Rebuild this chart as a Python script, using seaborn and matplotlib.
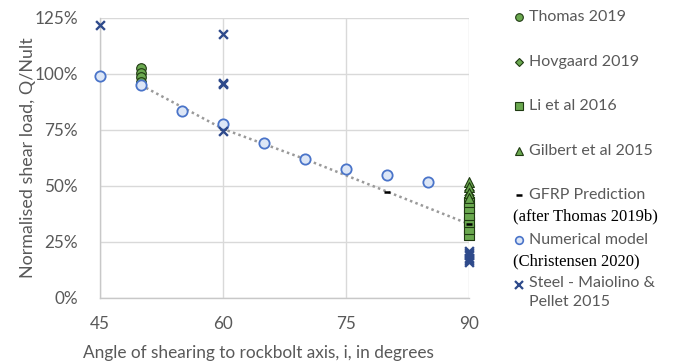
import matplotlib
matplotlib.use("Agg")
import matplotlib.pyplot as plt
from matplotlib.lines import Line2D
import seaborn as sns
import pandas as pd

# ---- data ----
thomas_x = [50, 50, 50, 50]
thomas_y = [102.5, 100.5, 98.5, 96.5]
hovgaard_x = [90, 90]
hovgaard_y = [48, 46]
li_x = [90, 90, 90, 90, 90, 90]
li_y = [28, 31, 34, 37, 40, 43]
gilbert_x = [90, 90, 90, 90]
gilbert_y = [52, 49.5, 47, 44.5]
gfrp_x = [50, 60, 70, 80, 90]
gfrp_y = [95, 75.5, 62, 47.5, 33]
num_x = [45, 50, 55, 60, 65, 70, 75, 80, 85]
num_y = [99, 95, 83.5, 77.5, 69, 62, 57.5, 55, 52]
steel_x = [45, 60, 60, 60, 60, 90, 90, 90, 90, 90, 90]
steel_y = [122, 118, 96, 95.5, 74.5, 21, 20, 19, 18, 17, 16]

x_ticks = [45, 60, 75, 90]
y_ticks = [0, 25, 50, 75, 100, 125]
y_ticklabels = ["0%", "25%", "50%", "75%", "100%", "125%"]

legend_labels = ["Thomas 2019", "Hovgaard 2019", "Li et al 2016", "Gilbert et al 2015",
                 "GFRP Prediction", "Numerical model", "Steel - Maiolino &\nPellet 2015"]
legend_sub = {4: "(after Thomas 2019b)", 5: "(Christensen 2020)"}
x_label = "Angle of shearing to rockbolt axis, i, in degrees"
y_label = "Normalised shear load, Q/Nult"

# ---- style ----
sns.set_style("white")
plt.rcParams["font.family"] = ["Lato", "DejaVu Sans"]
TXT = "#595959"
GREEN = "#6aa84f"
BLUE_E = "#4a74c9"
BLUE_F = "#dce6f6"
STEEL = "#2e4a8b"

W, H = 679, 363
fig = plt.figure(figsize=(W / 100, H / 100), dpi=100)
ax = fig.add_axes([100 / W, 1 - 298 / H, (469 - 100) / W, (298 - 18) / H])

df = lambda x, y: pd.DataFrame({"x": x, "y": y})

sns.scatterplot(data=df(thomas_x, thomas_y), x="x", y="y", ax=ax, marker="o", s=48,
                color=GREEN, edgecolor="#1f3a12", linewidth=0.8, zorder=3)
sns.scatterplot(data=df(hovgaard_x, hovgaard_y), x="x", y="y", ax=ax, marker="D", s=22,
                color=GREEN, edgecolor="#1f3a12", linewidth=0.8, zorder=3)
sns.scatterplot(data=df(li_x, li_y), x="x", y="y", ax=ax, marker="s", s=48,
                color=GREEN, edgecolor="#1f3a12", linewidth=0.8, zorder=3)
sns.scatterplot(data=df(gilbert_x, gilbert_y), x="x", y="y", ax=ax, marker="^", s=50,
                color=GREEN, edgecolor="#1f3a12", linewidth=0.8, zorder=3)
sns.lineplot(data=df(gfrp_x, gfrp_y), x="x", y="y", ax=ax, color="#9a9a9a",
             linewidth=1.8, linestyle=(0, (1, 1.3)), zorder=2)
sns.scatterplot(data=df(gfrp_x, gfrp_y), x="x", y="y", ax=ax, marker="_", s=18,
                color="black", linewidth=1.8, zorder=3)
sns.scatterplot(data=df(num_x, num_y), x="x", y="y", ax=ax, marker="o", s=55,
                color=BLUE_F, edgecolor=BLUE_E, linewidth=1.3, zorder=4)
sns.scatterplot(data=df(steel_x, steel_y), x="x", y="y", ax=ax, marker="x", s=40,
                color=STEEL, linewidth=1.7, zorder=5)

for c in ax.collections:
    c.set_clip_on(False)
for l in ax.lines:
    l.set_clip_on(False)

ax.set_xlim(45, 90)
ax.set_ylim(0, 125)
ax.set_xticks(x_ticks)
ax.set_xticklabels([str(v) for v in x_ticks])
ax.set_yticks(y_ticks)
ax.set_yticklabels(y_ticklabels)
ax.grid(True, color="#d9d9d9", linewidth=1)
ax.set_axisbelow(True)
for s in ["top", "right"]:
    ax.spines[s].set_visible(False)
for s in ["left", "bottom"]:
    ax.spines[s].set_color("#c8c8c8")
    ax.spines[s].set_linewidth(1)
ax.tick_params(axis="both", length=4, width=1, color="#d0d0d0",
               labelsize=12.3, labelcolor=TXT)
ax.tick_params(axis="y", pad=12)
ax.tick_params(axis="x", pad=9)
ax.set_xlabel(x_label, fontsize=12.45, color=TXT)
ax.set_ylabel(y_label, fontsize=12.9, color=TXT)
ax.xaxis.set_label_coords(0.4295, -0.168)
ax.yaxis.set_label_coords(-0.173, 0.5)

# ---- legend (manual, right side) ----
def fx(px):
    return px / W

def fy(py):
    return 1 - py / H

rows = [17, 62, 106, 151, 195, 240, 285]
mk = [dict(marker="o", ms=5.5, mfc=GREEN, mec="#1f3a12", mew=0.8),
      dict(marker="D", ms=4, mfc=GREEN, mec="#1f3a12", mew=0.8),
      dict(marker="s", ms=5.5, mfc=GREEN, mec="#1f3a12", mew=0.8),
      dict(marker="^", ms=6, mfc=GREEN, mec="#1f3a12", mew=0.8),
      dict(marker="_", ms=4, mec="black", mew=1.8),
      dict(marker="o", ms=5.5, mfc=BLUE_F, mec=BLUE_E, mew=1.2),
      dict(marker="x", ms=5.5, mec=STEEL, mew=1.6)]
for i, (lab, yy) in enumerate(zip(legend_labels, rows)):
    fig.add_artist(Line2D([fx(519)], [fy(yy)], transform=fig.transFigure,
                          linestyle="none", **mk[i]))
    two = "\n" in lab
    fig.text(fx(529), fy(yy - 9) if two else fy(yy), lab, fontsize=11.5, color=TXT,
             va="top" if two else "center", ha="left", linespacing=1.5)
    if i in legend_sub:
        fig.text(fx(513), fy(yy + 21), legend_sub[i], fontsize=12, color="black",
                 family=["Liberation Serif", "DejaVu Serif"], va="center", ha="left")

fig.savefig("out.png", dpi=100)
